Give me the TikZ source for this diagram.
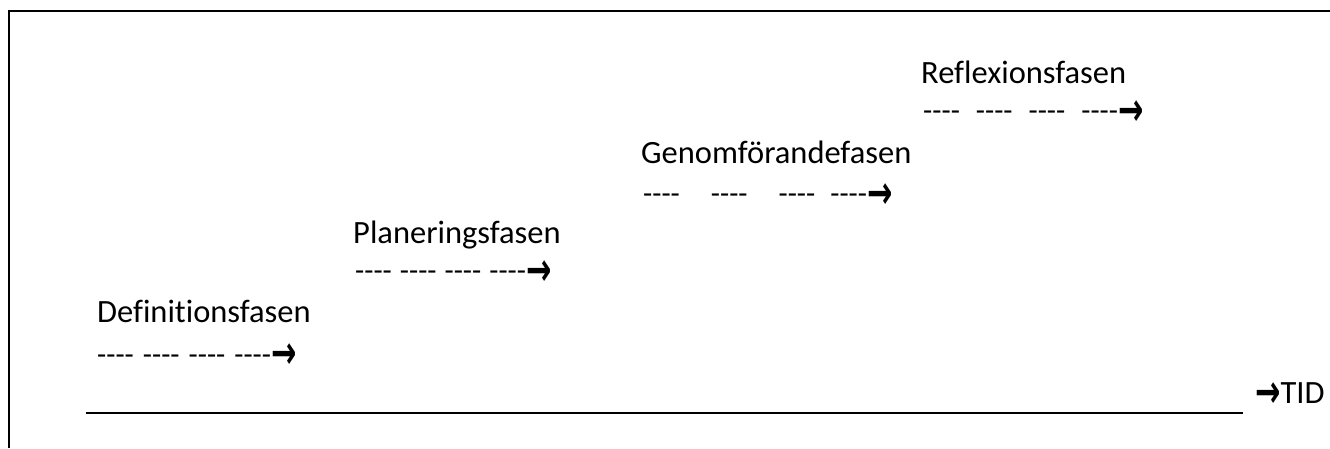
\documentclass[tikz,border=0pt]{standalone}
\usepackage{fontspec}
\usepackage{graphicx}
\newfontfamily\calfont[Ligatures={NoCommon}]{Carlito}
\newfontfamily\arrowfont{DejaVu Sans}
% horizontal gap between dash groups, in picture units
\newcommand{\dgap}[1]{\hspace*{#1pt}}
% right arrow, sized to the dash lines
\newcommand{\rarr}{\raisebox{-4.6pt}{\scalebox{0.66}[1]{\arrowfont\bfseries\fontsize{46}{46}\selectfont →}}}
\begin{document}
\begin{tikzpicture}[x=1pt,y=-1pt,
  lbl/.style={anchor=base west,inner sep=0pt,font=\calfont\fontsize{32.5}{38}\selectfont},
  dsh/.style={anchor=base west,inner sep=0pt,font=\calfont\fontsize{30}{36}\selectfont},
  frame/.style={line width=2pt},
  axis/.style={line width=2pt}]
\useasboundingbox (0,0) rectangle (1330,448);
% page frame (top and left edges)
\draw[frame] (9,448) -- (9,11) -- (1330,11);

% phases
\node[lbl] (defT) at (97,322.5) {Definitionsfasen};
\node[dsh] (defD) at (97,364) {----\dgap{9}----\dgap{9}----\dgap{9}----\rarr};

\node[lbl] (plaT) at (353,243.3) {Planeringsfasen};
\node[dsh] (plaD) at (355,280.5) {----\dgap{8}----\dgap{8}----\dgap{8}----\rarr};

\node[lbl] (genT) at (641,163.3) {Genomförandefasen};
\node[dsh] (genD) at (643,203.5) {----\dgap{31}----\dgap{31}----\dgap{15}----\rarr};

\node[lbl] (refT) at (921,83.3) {Reflexionsfasen};
\node[dsh] (refD) at (923,120.5) {----\dgap{16}----\dgap{16}----\dgap{16}----\rarr};

% time axis
\coordinate (t0) at (86,413);
\coordinate (t1) at (1243,413);
\draw[axis] (t0) -- (t1);
\node[lbl] (tid) at (1255,403) {\rarr TID};
\end{tikzpicture}
\end{document}
